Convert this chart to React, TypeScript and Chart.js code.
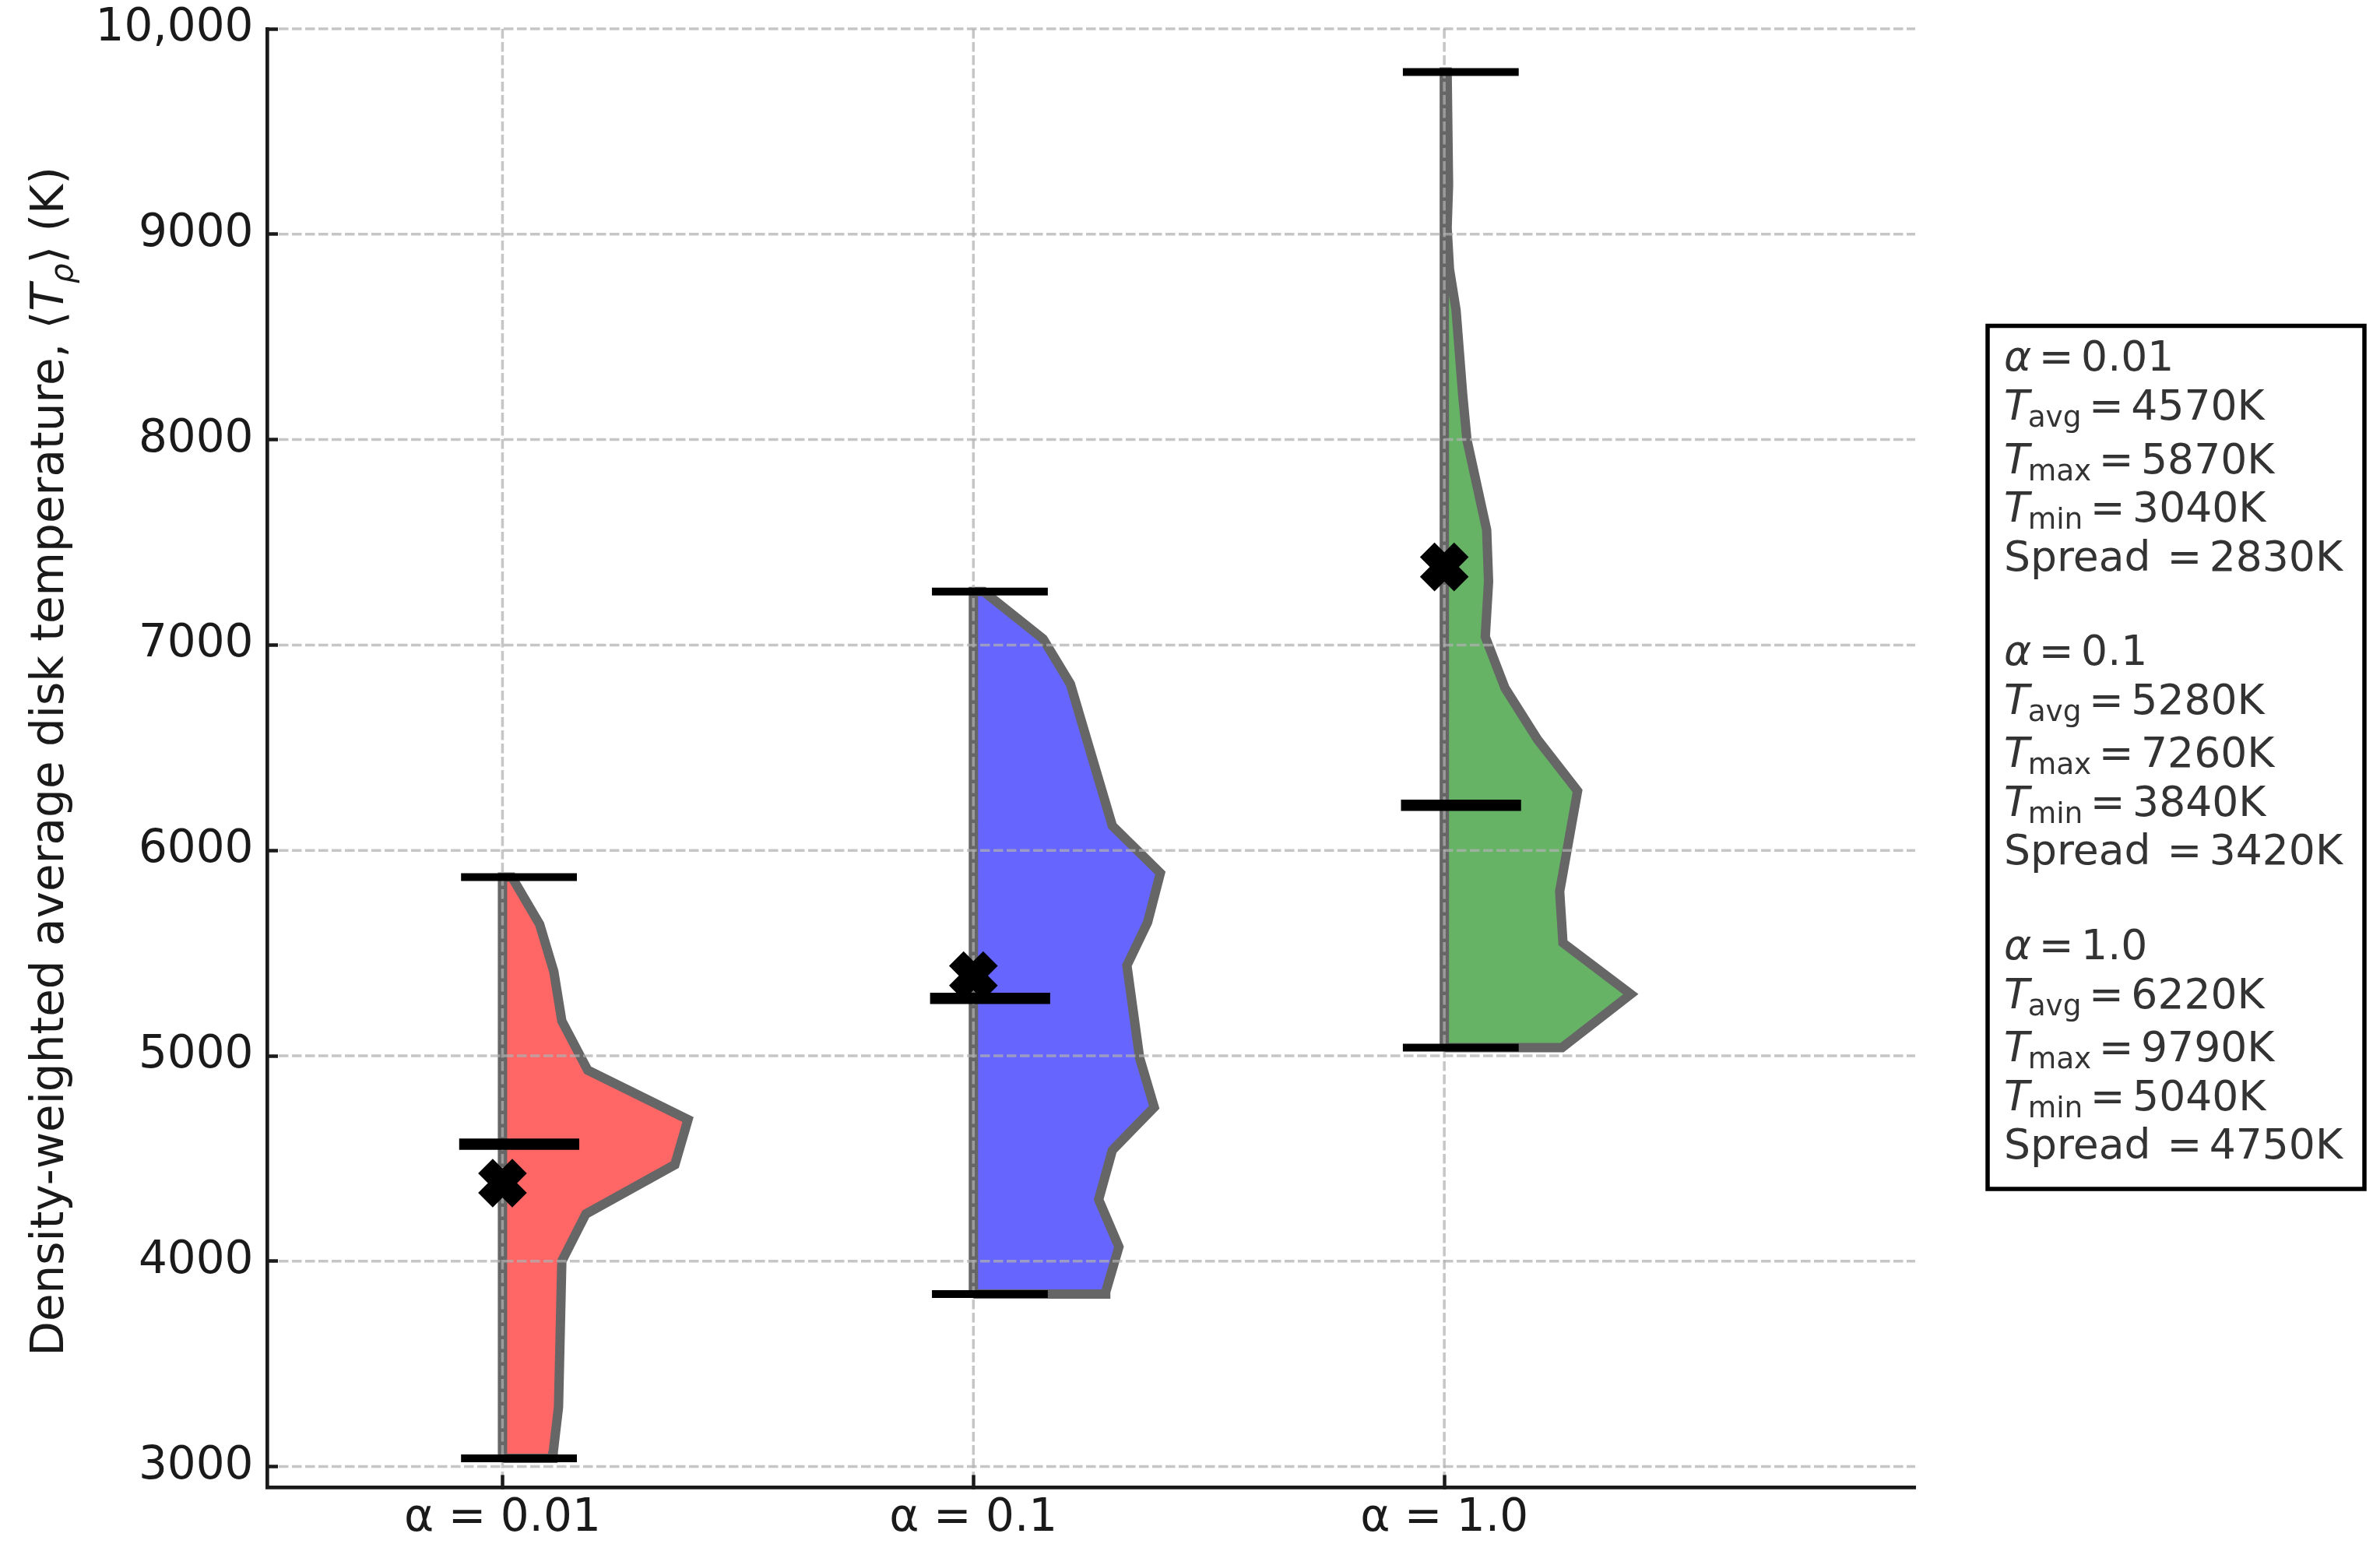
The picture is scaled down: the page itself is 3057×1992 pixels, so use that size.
import React, { useEffect, useRef } from 'react';
import { Chart, registerables } from 'chart.js';

Chart.register(...registerables);

// ---------------- data ----------------
const categories = ['α = 0.01', 'α = 0.1', 'α = 1.0'];
const alphaValues = ['0.01', '0.1', '1.0'];
const tAvg = [4570, 5280, 6220];
const tMax = [5870, 7260, 9790];
const tMin = [3040, 3840, 5040];
const tSpread = [2830, 3420, 4750];
const tMarker = [4380, 5390, 7380];

const xTickValues = [0, 1, 2];
const yTickValues = [3000, 4000, 5000, 6000, 7000, 8000, 9000, 10000];
const yTickLabels = ['3000', '4000', '5000', '6000', '7000', '8000', '9000', '10,000'];

// half-violin outlines, top to bottom: temperature (K) and half-width (category units)
const violinT1 = [5870, 5640, 5410, 5170, 4930, 4690, 4470, 4230, 4000, 3290, 3075, 3040];
const violinW1 = [0.02, 0.079, 0.109, 0.126, 0.181, 0.394, 0.366, 0.177, 0.126, 0.119, 0.108, 0.107];
const violinT2 = [7260, 7030, 6810, 6120, 5890, 5650, 5440, 4990, 4750, 4540, 4300, 4070, 3850, 3840];
const violinW2 = [0.022, 0.148, 0.206, 0.295, 0.397, 0.37, 0.326, 0.353, 0.384, 0.295, 0.266, 0.309, 0.281, 0.281];
const violinT3 = [9790, 9240, 9030, 8830, 8630, 8220, 8000, 7560, 7310, 7040, 6790, 6540, 6290, 5800, 5550, 5300, 5040];
const violinW3 = [0.006, 0.009, 0.006, 0.011, 0.025, 0.039, 0.048, 0.09, 0.094, 0.087, 0.129, 0.198, 0.283, 0.245, 0.252, 0.396, 0.25];

const yTitleParts = [
  { text: 'Density-weighted average disk temperature, ', italic: false, sub: false },
  { text: '⟨', italic: false, sub: false },
  { text: 'T', italic: true, sub: false },
  { text: 'ρ', italic: true, sub: true },
  { text: '⟩', italic: false, sub: false },
  { text: ' (K)', italic: false, sub: false },
];
const legendSubs = ['avg', 'max', 'min'];

// ---------------- styles ----------------
const FONT = '"DejaVu Sans"';
const fillColors = ['#ff6666', '#6666ff', '#66b366'];
const edgeColor = '#666666';
const textDark = '#1a1a1a';

const violinsT = [violinT1, violinT2, violinT3];
const violinsW = [violinW1, violinW2, violinW3];

function violinPoints(i: number) {
  const pts: { x: number; y: number }[] = [
    { x: i, y: tMin[i] },
    { x: i, y: tMax[i] },
  ];
  violinsT[i].forEach((t, k) => pts.push({ x: i + violinsW[i][k], y: t }));
  pts.push({ x: i, y: tMin[i] });
  return pts;
}

function barSegments(vals: number[], left: number, right: number) {
  const pts: { x: number; y: number | null }[] = [];
  vals.forEach((v, i) => {
    pts.push({ x: i - left, y: v });
    pts.push({ x: i + right, y: v });
    pts.push({ x: i + 0.5, y: null });
  });
  return pts;
}

const gridOverlay = {
  id: 'gridOverlay',
  afterDatasetDraw(chart: any, args: any) {
    if (args.index !== 0) return;
    const { ctx, chartArea: a } = chart;
    const xs = chart.scales.x;
    const ys = chart.scales.y;
    ctx.save();
    ctx.strokeStyle = 'rgba(176,176,176,0.72)';
    ctx.lineWidth = 3.5;
    ctx.setLineDash([12.5, 4.5]);
    ctx.lineCap = 'butt';
    for (const v of yTickValues) {
      const py = ys.getPixelForValue(v);
      ctx.beginPath();
      ctx.moveTo(a.left + 15, py);
      ctx.lineTo(a.right, py);
      ctx.stroke();
    }
    for (const v of xTickValues) {
      const px = xs.getPixelForValue(v);
      ctx.beginPath();
      ctx.moveTo(px, a.top);
      ctx.lineTo(px, a.bottom - 16);
      ctx.stroke();
    }
    ctx.restore();
  },
};

const textPlugin = {
  id: 'textPlugin',
  afterDraw(chart: any) {
    const ctx = chart.ctx as CanvasRenderingContext2D;
    // ----- y-axis title -----
    const fs = 58;
    ctx.save();
    ctx.fillStyle = textDark;
    ctx.textBaseline = 'alphabetic';
    ctx.textAlign = 'left';
    const fontOf = (p: any) =>
      `${p.italic ? 'italic ' : ''}${p.sub ? fs * 0.7 : fs}px ${FONT}`;
    let total = 0;
    for (const p of yTitleParts) {
      ctx.font = fontOf(p);
      total += ctx.measureText(p.text).width;
    }
    ctx.translate(81, 978);
    ctx.rotate(-Math.PI / 2);
    let x = -total / 2;
    for (const p of yTitleParts) {
      ctx.font = fontOf(p);
      ctx.fillText(p.text, x, p.sub ? fs * 0.2 : 0);
      x += ctx.measureText(p.text).width;
    }
    ctx.restore();

    // ----- statistics box -----
    const LF = 53.5;
    const SF = LF * 0.7;
    const x0 = 2574;
    const base0 = 476;
    const period = 377.8;
    const offs = [0, 63.3, 131.6, 194.3, 256.6];
    const GAP = 9.5;
    const fN = `${LF}px ${FONT}`;
    const fI = `italic ${LF}px ${FONT}`;
    const fS = `${SF}px ${FONT}`;
    ctx.save();
    ctx.strokeStyle = '#000';
    ctx.lineWidth = 5.5;
    ctx.strokeRect(2553, 418.5, 3037 - 2553, 1527 - 418.5);
    ctx.fillStyle = '#333333';
    ctx.textBaseline = 'alphabetic';
    ctx.textAlign = 'left';
    const w = (t: string) => ctx.measureText(t).width;
    for (let g = 0; g < 3; g++) {
      const b = base0 + g * period;
      let y = b + offs[0];
      let cx = x0;
      ctx.font = fI;
      ctx.fillText('α', cx, y);
      cx += w('α') + GAP;
      ctx.font = fN;
      ctx.fillText('=', cx, y);
      cx += w('=') + GAP;
      ctx.fillText(alphaValues[g], cx, y);

      const vals = [tAvg[g], tMax[g], tMin[g]];
      for (let k = 0; k < 3; k++) {
        y = b + offs[k + 1];
        cx = x0;
        ctx.font = fI;
        ctx.fillText('T', cx, y);
        cx += w('T') - 2;
        ctx.font = fS;
        ctx.fillText(legendSubs[k], cx, y + 9);
        cx += w(legendSubs[k]) + GAP;
        ctx.font = fN;
        ctx.fillText('=', cx, y);
        cx += w('=') + GAP;
        ctx.fillText(`${vals[k]}K`, cx, y);
      }

      y = b + offs[4];
      cx = x0;
      ctx.font = fN;
      ctx.fillText('Spread', cx, y);
      cx += w('Spread') + 21;
      ctx.fillText('=', cx, y);
      cx += w('=') + GAP;
      ctx.fillText(`${tSpread[g]}K`, cx, y);
    }
    ctx.restore();
  },
};

export default function App() {
  const ref = useRef<HTMLCanvasElement>(null);
  useEffect(() => {
    const canvas = ref.current;
    if (!canvas) return;

    const violinSets = [0, 1, 2].map((i) => ({
      label: `violin-${i}`,
      data: violinPoints(i),
      showLine: true,
      fill: 'shape',
      backgroundColor: fillColors[i],
      borderColor: edgeColor,
      borderWidth: 12,
      borderJoinStyle: 'miter',
      borderCapStyle: 'butt',
      pointRadius: 0,
      pointHoverRadius: 0,
      tension: 0,
      clip: false,
      order: 3,
    }));

    const markerSet = {
      label: 'marker',
      data: tMarker.map((t, i) => ({ x: i, y: t })),
      showLine: false,
      pointStyle: 'crossRot',
      pointRadius: 31,
      pointHoverRadius: 31,
      pointBorderWidth: 26.5,
      pointBorderColor: '#000000',
      pointBackgroundColor: '#000000',
      clip: false,
      order: 2,
    };

    const barSet = (vals: number[], l: number, r: number, bw: number, name: string) => ({
      label: name,
      data: barSegments(vals, l, r),
      showLine: true,
      spanGaps: false,
      fill: false,
      borderColor: '#000000',
      borderWidth: bw,
      borderCapStyle: 'butt',
      pointRadius: 0,
      pointHoverRadius: 0,
      clip: false,
      order: 1,
    });

    const chart = new Chart(canvas, {
      type: 'scatter',
      data: {
        datasets: [
          ...violinSets,
          markerSet,
          barSet(tMin, 0.088, 0.158, 10, 'min'),
          barSet(tMax, 0.088, 0.158, 10, 'max'),
          barSet(tAvg, 0.092, 0.163, 14.5, 'avg'),
        ] as any,
      },
      options: {
        responsive: false,
        devicePixelRatio: 1,
        animation: false,
        events: [],
        layout: {
          autoPadding: false,
          padding: { left: 0, top: 37, right: 597, bottom: 0 },
        } as any,
        plugins: {
          legend: { display: false },
          tooltip: { enabled: false },
        },
        scales: {
          x: {
            type: 'linear',
            position: 'bottom',
            min: -0.5,
            max: 3,
            afterBuildTicks: (scale: any) => {
              scale.ticks = xTickValues.map((v) => ({ value: v }));
            },
            afterFit: (scale: any) => {
              scale.height = 82;
              scale.paddingLeft = 0;
              scale.paddingRight = 0;
              scale.paddingTop = 0;
              scale.paddingBottom = 0;
            },
            grid: {
              color: 'transparent',
              drawTicks: true,
              tickLength: -15.7,
              tickWidth: 4.5,
              tickColor: textDark,
            },
            border: { display: true, color: textDark, width: 4.7 },
            ticks: {
              autoSkip: false,
              maxRotation: 0,
              minRotation: 0,
              padding: 22,
              color: textDark,
              font: { family: FONT, size: 58 },
              callback: (v: any) => categories[Math.round(Number(v))] ?? '',
            },
          },
          y: {
            type: 'linear',
            position: 'left',
            min: 2900,
            max: 10000,
            afterBuildTicks: (scale: any) => {
              scale.ticks = yTickValues.map((v) => ({ value: v }));
            },
            afterFit: (scale: any) => {
              scale.width = 343;
              scale.paddingLeft = 0;
              scale.paddingRight = 0;
              scale.paddingTop = 0;
              scale.paddingBottom = 0;
            },
            grid: {
              color: 'transparent',
              drawTicks: true,
              tickLength: -14,
              tickWidth: 4.5,
              tickColor: textDark,
            },
            border: { display: true, color: textDark, width: 4.7 },
            ticks: {
              autoSkip: false,
              padding: 31.5,
              color: textDark,
              font: { family: FONT, size: 58 },
              callback: (v: any) => {
                const idx = yTickValues.indexOf(Number(v));
                return idx >= 0 ? yTickLabels[idx] : '';
              },
            },
          },
        },
      } as any,
      plugins: [gridOverlay, textPlugin],
    });
    return () => chart.destroy();
  }, []);

  return (
    <div
      style={{
        position: 'absolute',
        left: 0,
        top: 0,
        width: 3057,
        height: 1992,
        background: '#ffffff',
      }}
    >
      <canvas
        ref={ref}
        width={3057}
        height={1992}
        style={{ display: 'block', width: '3057px', height: '1992px' }}
      />
    </div>
  );
}
